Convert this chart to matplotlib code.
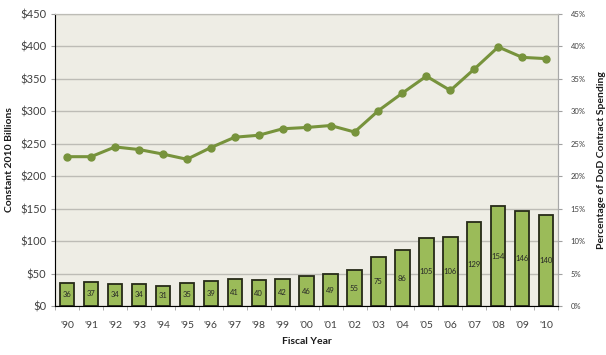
import numpy as np
import matplotlib
matplotlib.use("Agg")
import matplotlib.pyplot as plt
from matplotlib.ticker import FuncFormatter, MultipleLocator

plt.rcParams["font.family"] = ["Lato", "DejaVu Sans"]

# ── Dados ────────────────────────────────────────────────────────────────
anos = ["'90", "'91", "'92", "'93", "'94", "'95", "'96", "'97", "'98", "'99", "'00",
        "'01", "'02", "'03", "'04", "'05", "'06", "'07", "'08", "'09", "'10"]
gasto_bi = [36, 37, 34, 34, 31, 35, 39, 41, 40, 42, 46,
            49, 55, 75, 86, 105, 106, 129, 154, 146, 140]
pct_contratos = [23.0, 23.0, 24.5, 24.1, 23.4, 22.6, 24.4, 26.0, 26.3, 27.3, 27.5,
                 27.8, 26.8, 30.1, 32.8, 35.4, 33.2, 36.5, 39.9, 38.3, 38.1]

COR_BARRA = "#9BBB59"
COR_LINHA = "#77933C"
COR_FUNDO = "#EEEDE5"
COR_GRADE = "#BDBCB6"
COR_TEXTO = "#404040"

fig = plt.figure(figsize=(6.06, 3.55), dpi=100, facecolor="white")
ax = fig.add_axes([0.091, 0.138, 0.830, 0.823])
ax.set_facecolor(COR_FUNDO)
x = np.arange(len(anos))

# Barras ($ bilhões)
ax.bar(x, gasto_bi, width=0.6, color=COR_BARRA, edgecolor="#262A18", linewidth=1.3, zorder=3)
for xi, v in zip(x, gasto_bi):
    ax.text(xi, v / 2, str(v), ha="center", va="center", fontsize=5.5,
            color="#262626", zorder=4)

ax.set_xlim(-0.5, len(anos) - 0.5)
ax.set_ylim(0, 450)
ax.yaxis.set_major_locator(MultipleLocator(50))
ax.yaxis.set_major_formatter(FuncFormatter(lambda v, _: f"${int(v)}"))
ax.grid(axis="y", color=COR_GRADE, linewidth=1.0, zorder=0)
ax.set_axisbelow(True)
ax.set_xticks(x)
ax.set_xticklabels(anos)
ax.set_xticks(np.arange(-0.5, len(anos)), minor=True)
ax.tick_params(axis="x", which="major", length=0, labelsize=7.5, colors=COR_TEXTO, pad=11)
ax.tick_params(axis="x", which="minor", length=3, color="#A0A0A0")
ax.tick_params(axis="y", length=3, color="#A0A0A0", labelsize=8, labelcolor=COR_TEXTO)
ax.spines["top"].set_color(COR_GRADE)
for lado in ("left", "bottom", "right"):
    ax.spines[lado].set_color("#A8A8A8")
ax.set_ylabel("Constant 2010 Billions", fontsize=7.5, fontweight="bold", color="#1A1A1A")
ax.set_xlabel("Fiscal Year", fontsize=7.5, fontweight="bold", color="#1A1A1A", labelpad=5)

# Linha (% dos contratos do DoD)
ax2 = ax.twinx()
ax2.plot(x, pct_contratos, color=COR_LINHA, linewidth=2.2, marker="o", markersize=5, zorder=5)
ax2.set_ylim(0, 45)
ax2.yaxis.set_major_locator(MultipleLocator(5))
ax2.yaxis.set_major_formatter(FuncFormatter(lambda v, _: f"{int(v)}%"))
ax2.tick_params(axis="y", length=3, color="#A0A0A0", labelsize=5.5, labelcolor=COR_TEXTO, pad=6)
ax2.spines["top"].set_color(COR_GRADE)
ax2.spines["right"].set_color("#A8A8A8")
ax2.set_ylabel("Percentage of DoD Contract Spending", fontsize=7.5, fontweight="bold",
               color="#1A1A1A", labelpad=8)

fig.savefig("out.png", dpi=100, facecolor="white")
